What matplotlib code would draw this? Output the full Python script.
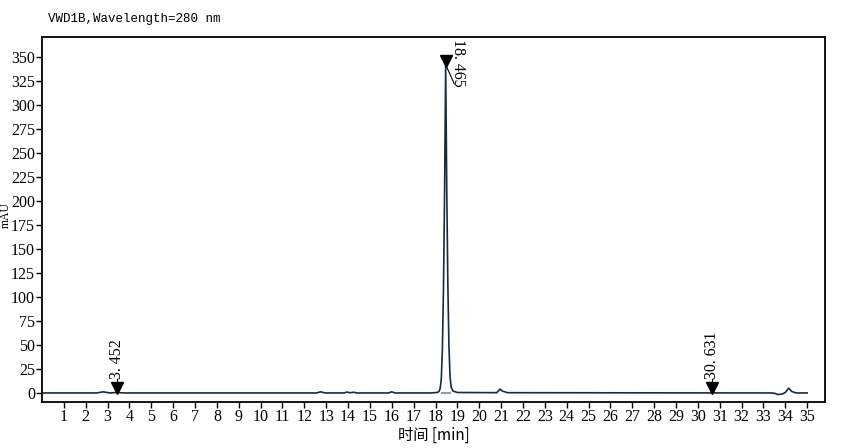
import matplotlib.pyplot as plt

# trace (time in min, signal in mAU)
time = [0.0, 2.5, 2.65, 2.8, 2.95, 3.1, 3.3, 3.45, 3.6, 3.8, 12.55, 12.75, 12.95,
        13.8, 13.95, 14.1, 14.25, 14.4, 15.85, 16.0, 16.15, 17.8, 18.1, 18.17,
        18.215, 18.265, 18.315, 18.365, 18.415, 18.465, 18.515, 18.565, 18.615,
        18.665, 18.715, 18.8, 19.0, 20.8, 20.95, 21.05, 21.3, 33.4, 33.55, 33.65,
        33.85, 34.0, 34.15, 34.3, 34.5, 35.0]
signal = [0.0, 0.0, 0.6, 1.2, 0.6, 0.0, 0.3, 0.9, 0.2, 0.0, 0.0, 1.2, 0.0,
          0.0, 0.9, 0.2, 0.8, 0.0, 0.0, 1.2, 0.0, 0.0, 0.6, 2.0,
          5.0, 15.0, 46.0, 110.0, 210.0, 342.0, 210.0, 112.0, 48.0,
          17.0, 6.0, 2.0, 0.5, 0.3, 4.0, 2.0, 0.3, 0.0, -0.6, -1.6,
          -1.2, 0.5, 5.0, 1.5, 0.0, 0.0]

peak_times = [3.452, 18.465, 30.631]
peak_heights = [1.0, 342.0, 0.8]
peak_labels = ["3. 452", "18. 465", "30. 631"]

xticks = list(range(1, 36))
yticks = list(range(0, 351, 25))

line_col = "#1c2b3a"
serif = "Liberation Serif"

fig = plt.figure(figsize=(8.62, 4.48), dpi=100)
ax = fig.add_axes([0.0487, 0.1027, 0.9085, 0.8147])

ax.plot(time, signal, color=line_col, lw=1.2)
# integration baseline under main peak
ax.plot([18.3, 18.68], [0, 0], color="#9a9a9a", lw=1.5, zorder=1)

for t, h, lab in zip(peak_times, peak_heights, peak_labels):
    ax.plot([t], [h + 4.5], marker="v", color="black", ms=8, ls="none")
    if h > 100:
        ax.text(t + 0.18, h + 27, lab, rotation=-90, ha="left", va="top",
                fontsize=11.5, family=serif)
        ax.plot([t, t + 0.4], [h, h - 20], color="black", lw=0.8)
    else:
        ax.plot([t, t], [h + 9, h + 14], color="black", lw=0.8)
        ax.text(t, h + 14, lab, rotation=90, ha="center", va="bottom",
                fontsize=11.5, family=serif)

ax.set_xlim(0, 35.82)
ax.set_ylim(-9.4, 371)
ax.set_xticks(xticks)
ax.set_yticks(yticks)
ax.tick_params(direction="out", length=4, width=1, labelsize=11.5, pad=1)
for lab in ax.get_xticklabels() + ax.get_yticklabels():
    lab.set_family(serif)
for s in ax.spines.values():
    s.set_linewidth(1.3)

ax.set_xlabel("时间 [min]", family=["Noto Sans CJK SC", "DejaVu Sans"],
              fontsize=11, labelpad=1)
fig.text(0.0, 0.52, "mAU", rotation=90, ha="left", va="center",
         fontsize=8.5, family=serif)
fig.text(0.056, 0.945, "VWD1B,Wavelength=280 nm", ha="left", va="bottom",
         fontsize=9, family="Liberation Mono")

fig.savefig("out.png", dpi=100)
